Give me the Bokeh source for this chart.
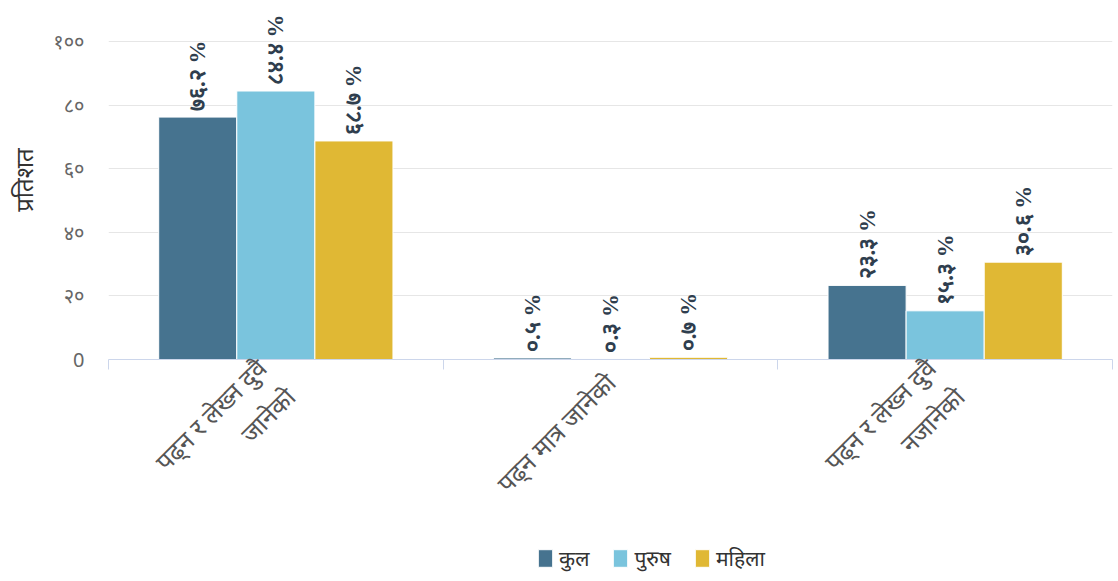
from bokeh.plotting import figure
from bokeh.layouts import column
from bokeh.models import (ColumnDataSource, FactorRange, Range1d, LinearAxis, FixedTicker,
                          LabelSet, Legend, LegendItem)
from bokeh.transform import dodge
from bokeh.embed import file_html
from bokeh.resources import INLINE
import math

categories = ["पढ्न र लेख्न दुवै जानेको", "पढ्न मात्र जानेको", "पढ्न र लेख्न दुवै नजानेको"]
category_labels = ["पढ्न र लेख्न दुवै\nजानेको", "पढ्न मात्र जानेको", "पढ्न र लेख्न दुवै\nनजानेको"]
series_names = ["कुल", "पुरुष", "महिला"]
kul = [76.2, 0.5, 23.3]
purush = [84.4, 0.3, 15.3]
mahila = [68.7, 0.7, 30.6]
y_ticks = [0, 20, 40, 60, 80, 100]
y_tick_labels = ["0", "२०", "४०", "६०", "८०", "१००"]
y_title = "प्रतिशत"
colors = ["#46738F", "#7AC4DD", "#E0B834"]

dev = str.maketrans("0123456789", "०१२३४५६७८९")
def fmt(v):
    return ("%.1f" % v).translate(dev) + " %"

series_vals = [kul, purush, mahila]
data = {"cat": categories}
for i, vals in enumerate(series_vals):
    data["v%d" % i] = vals
    data["l%d" % i] = [fmt(v) for v in vals]
src = ColumnDataSource(data)

FONT = "Noto Sans"

p = figure(width=1114, height=535, x_range=FactorRange(*categories),
           y_range=Range1d(0, 112.85), output_backend="svg", toolbar_location=None,
           x_axis_location=None, min_border_left=108, min_border_right=2,
           min_border_top=0, min_border_bottom=175)
p.x_range.range_padding = 0
p.outline_line_color = None
p.xgrid.grid_line_color = None
p.ygrid.ticker = FixedTicker(ticks=y_ticks)
p.ygrid.grid_line_color = "#e6e6e6"
p.ygrid.grid_line_width = 1

yax = p.yaxis[0]
yax.ticker = FixedTicker(ticks=y_ticks)
yax.major_label_overrides = {t: l for t, l in zip(y_ticks, y_tick_labels)}
yax.axis_line_color = None
yax.major_tick_line_color = None
yax.minor_tick_line_color = None
yax.major_label_text_color = "#666666"
yax.major_label_text_font_size = "20px"
yax.major_label_text_font = FONT
yax.major_label_standoff = 18
yax.axis_label = y_title
yax.axis_label_text_font_style = "normal"
yax.axis_label_text_font_size = "24px"
yax.axis_label_text_color = "#333333"
yax.axis_label_text_font = FONT
yax.axis_label_standoff = 10

# bottom axis on the factor range's synthetic coordinates:
# category boundaries as (minor) ticks, category names at centers
centers = [i + 0.5 for i in range(len(categories))]
bounds = [i for i in range(len(categories) + 1)]
xax = LinearAxis(ticker=FixedTicker(ticks=centers, minor_ticks=bounds),
                 major_label_overrides={c: l for c, l in zip(centers, category_labels)})
xax.axis_line_color = "#ccd6eb"
xax.major_tick_line_color = None
xax.minor_tick_out = 10
xax.minor_tick_in = 0
xax.minor_tick_line_color = "#ccd6eb"
xax.major_label_orientation = math.pi / 4
xax.major_label_text_font_size = "25px"
xax.major_label_text_color = "#555555"
xax.major_label_text_font = FONT
xax.major_label_standoff = 8
p.add_layout(xax, "below")

width = 0.7 / 3
offsets = [-width, 0, width]
for i in range(3):
    p.vbar(x=dodge("cat", offsets[i], range=p.x_range), top="v%d" % i, width=width,
           source=src, fill_color=colors[i], line_color="white", line_width=1)
    lbl = LabelSet(x=dodge("cat", offsets[i], range=p.x_range), y="v%d" % i, text="l%d" % i,
                   source=src, angle=math.pi / 2, text_align="left", text_baseline="middle",
                   x_offset=0, y_offset=6, text_font_size="23px", text_font_style="bold",
                   text_color="#2f3e4e", text_font=FONT)
    p.add_layout(lbl)

# legend strip under the chart (its bars lie outside the strip's visible y range)
p2 = figure(width=1114, height=44, x_range=FactorRange(*categories), y_range=Range1d(200, 300),
            output_backend="svg", toolbar_location=None,
            x_axis_location=None, y_axis_location=None, min_border=0)
p2.outline_line_color = None
p2.xgrid.grid_line_color = None
p2.ygrid.grid_line_color = None
legend_renderers = []
for i in range(3):
    r = p2.vbar(x=dodge("cat", offsets[i], range=p2.x_range), top="v%d" % i, width=width,
                source=src, fill_color=colors[i], line_color="white", line_width=1)
    legend_renderers.append(r)
legend = Legend(items=[LegendItem(label=n, renderers=[r])
                       for n, r in zip(series_names, legend_renderers)],
                orientation="horizontal", location=(428, 7),
                label_text_font_size="21px", label_text_color="#333333", label_text_font=FONT,
                glyph_width=18, glyph_height=22, spacing=22, label_standoff=5,
                border_line_color=None, background_fill_alpha=0, padding=0, margin=0)
p2.add_layout(legend, "center")

layout = column(p, p2, spacing=0)
open("out.html", "w").write(file_html(layout, INLINE))
